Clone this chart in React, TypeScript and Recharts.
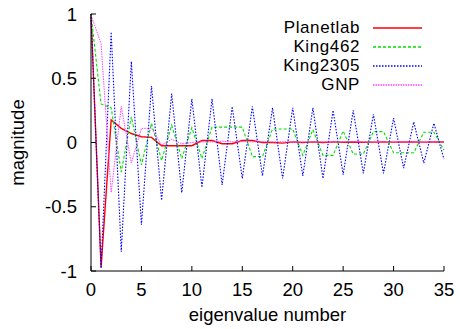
import React from 'react';
import { LineChart, Line, XAxis, YAxis } from 'recharts';

// eigenvalue index 0..35
const eigenIndex = [
  0, 1, 2, 3, 4, 5, 6, 7, 8, 9, 10, 11, 12, 13, 14, 15, 16, 17, 18, 19, 20,
  21, 22, 23, 24, 25, 26, 27, 28, 29, 30, 31, 32, 33, 34, 35,
];

const planetlab = [
  1, -0.97, 0.175, 0.11, 0.07, 0.045, 0.04, -0.025, -0.025, -0.025, -0.025,
  0.015, 0.015, -0.01, -0.01, 0.015, 0.015, 0, 0, -0.005, 0.005, 0, 0.005, 0,
  0.005, 0.002, 0.004, 0.002, 0.003, 0.004, 0.003, 0.004, 0.004, 0.003, 0.004,
  0.004,
];

const king462 = [
  1, 0.3, 0.27, -0.23, 0.2, -0.175, 0.15, -0.14, 0.135, -0.125, 0.115, -0.125,
  0.12, 0.12, 0.12, 0.12, -0.11, -0.11, 0.105, 0.105, 0.105, -0.1, 0.1, -0.1,
  -0.1, 0.09, -0.09, -0.09, 0.085, 0.085, -0.08, -0.08, -0.08, 0.08, 0.08,
  -0.06,
];

const king2305 = [
  1, -0.98, 0.86, -0.85, 0.63, -0.64, 0.44, -0.45, 0.38, -0.39, 0.34, -0.35,
  0.34, -0.33, 0.28, -0.28, 0.28, -0.26, 0.27, -0.28, 0.27, -0.26, 0.27, -0.28,
  0.25, -0.25, 0.25, -0.24, 0.22, -0.24, 0.19, -0.2, 0.16, -0.16, 0.15, -0.13,
];

const gnp = [
  0.99, 0.77, -0.39, 0.28, -0.16, 0.11, 0.11, -0.02, 0.025, -0.01, 0, 0.005,
  0.005, 0.01, 0.005, 0.008, 0.005, 0.006, 0.004, 0.006, 0.005, 0.004, 0.006,
  0.005, 0.004, 0.005, 0.006, 0.004, 0.005, 0.005, 0.004, 0.005, 0.005, 0.004,
  0.005, 0.005,
];

const xTicks = [0, 5, 10, 15, 20, 25, 30, 35];
const yTicks = [-1, -0.5, 0, 0.5, 1];

const series = [
  { key: 'Planetlab', values: planetlab, color: '#ff0000', dash: undefined, width: 1.4 },
  { key: 'King462', values: king462, color: '#00e000', dash: '3 2', width: 1.1 },
  { key: 'King2305', values: king2305, color: '#0000ff', dash: '1.5 1.5', width: 1.1 },
  { key: 'GNP', values: gnp, color: '#ff44ff', dash: '1.5 1', width: 1 },
];

const data = eigenIndex.map((x, i) => {
  const row: Record<string, number> = { x };
  series.forEach((s) => {
    row[s.key] = s.values[i];
  });
  return row;
});

const FONT = '"Liberation Sans", Arial, sans-serif';
const W = 460;
const H = 329;

export default function App() {
  return (
    <div style={{ position: 'relative', width: W, height: H, fontFamily: FONT, background: '#fff' }}>
      <style>{'body{margin:0}'}</style>
      <LineChart
        width={W}
        height={H}
        data={data}
        margin={{ top: 14, right: 16, bottom: 0, left: 0 }}
        style={{ fontFamily: FONT }}
      >
        <XAxis
          dataKey="x"
          type="number"
          domain={[0, 35]}
          ticks={xTicks}
          height={58}
          tickSize={-5}
          tickMargin={17}
          stroke="#000"
          tick={{ fill: '#000', fontSize: 18.5 }}
          axisLine={{ stroke: '#000' }}
          tickLine={{ stroke: '#000' }}
          label={(props: any) => {
            const vb = props.viewBox || {};
            return (
              <text x={vb.x + vb.width / 2} y={321} textAnchor="middle" fontSize={18.5} fill="#000">
                eigenvalue number
              </text>
            );
          }}
        />
        <XAxis
          xAxisId="top"
          orientation="top"
          dataKey="x"
          type="number"
          domain={[0, 35]}
          ticks={xTicks}
          height={0}
          tickSize={-5}
          tick={false}
          axisLine={{ stroke: '#000' }}
          tickLine={{ stroke: '#000' }}
        />
        <YAxis
          type="number"
          domain={[-1, 1]}
          ticks={yTicks}
          width={91}
          tickSize={-5}
          tickMargin={19}
          stroke="#000"
          tick={{ fill: '#000', fontSize: 18.5 }}
          axisLine={{ stroke: '#000' }}
          tickLine={{ stroke: '#000' }}
          label={(props: any) => {
            const vb = props.viewBox || {};
            const cy = vb.y + vb.height / 2;
            return (
              <text
                x={24}
                y={cy}
                textAnchor="middle"
                fontSize={18.5}
                fill="#000"
                transform={`rotate(-90, 24, ${cy})`}
              >
                magnitude
              </text>
            );
          }}
        />
        <YAxis
          yAxisId="right"
          orientation="right"
          type="number"
          domain={[-1, 1]}
          ticks={yTicks}
          width={0}
          tickSize={-5}
          tick={false}
          axisLine={{ stroke: '#000' }}
          tickLine={{ stroke: '#000' }}
        />
        {series.map((s) => (
          <Line
            key={s.key}
            dataKey={s.key}
            type="linear"
            stroke={s.color}
            strokeWidth={s.width}
            strokeDasharray={s.dash}
            dot={false}
            isAnimationActive={false}
          />
        ))}
      </LineChart>
      {/* legend: labels right-aligned, sample line to the right, like gnuplot's key */}
      <div style={{ position: 'absolute', top: 18, left: 0, width: 460 }}>
        {series.map((s) => (
          <div
            key={s.key}
            style={{
              display: 'flex',
              alignItems: 'center',
              height: 19,
              fontSize: 17,
              letterSpacing: 0.6,
              color: '#000',
            }}
          >
            <div style={{ width: 360, flexShrink: 0, textAlign: 'right', lineHeight: '19px' }}>{s.key}</div>
            <svg width={60} height={18} style={{ marginLeft: 13, flexShrink: 0 }}>
              <line
                x1={0}
                x2={49}
                y1={9}
                y2={9}
                stroke={s.color}
                strokeWidth={s.width + 0.3}
                strokeDasharray={s.dash}
              />
            </svg>
          </div>
        ))}
      </div>
    </div>
  );
}
